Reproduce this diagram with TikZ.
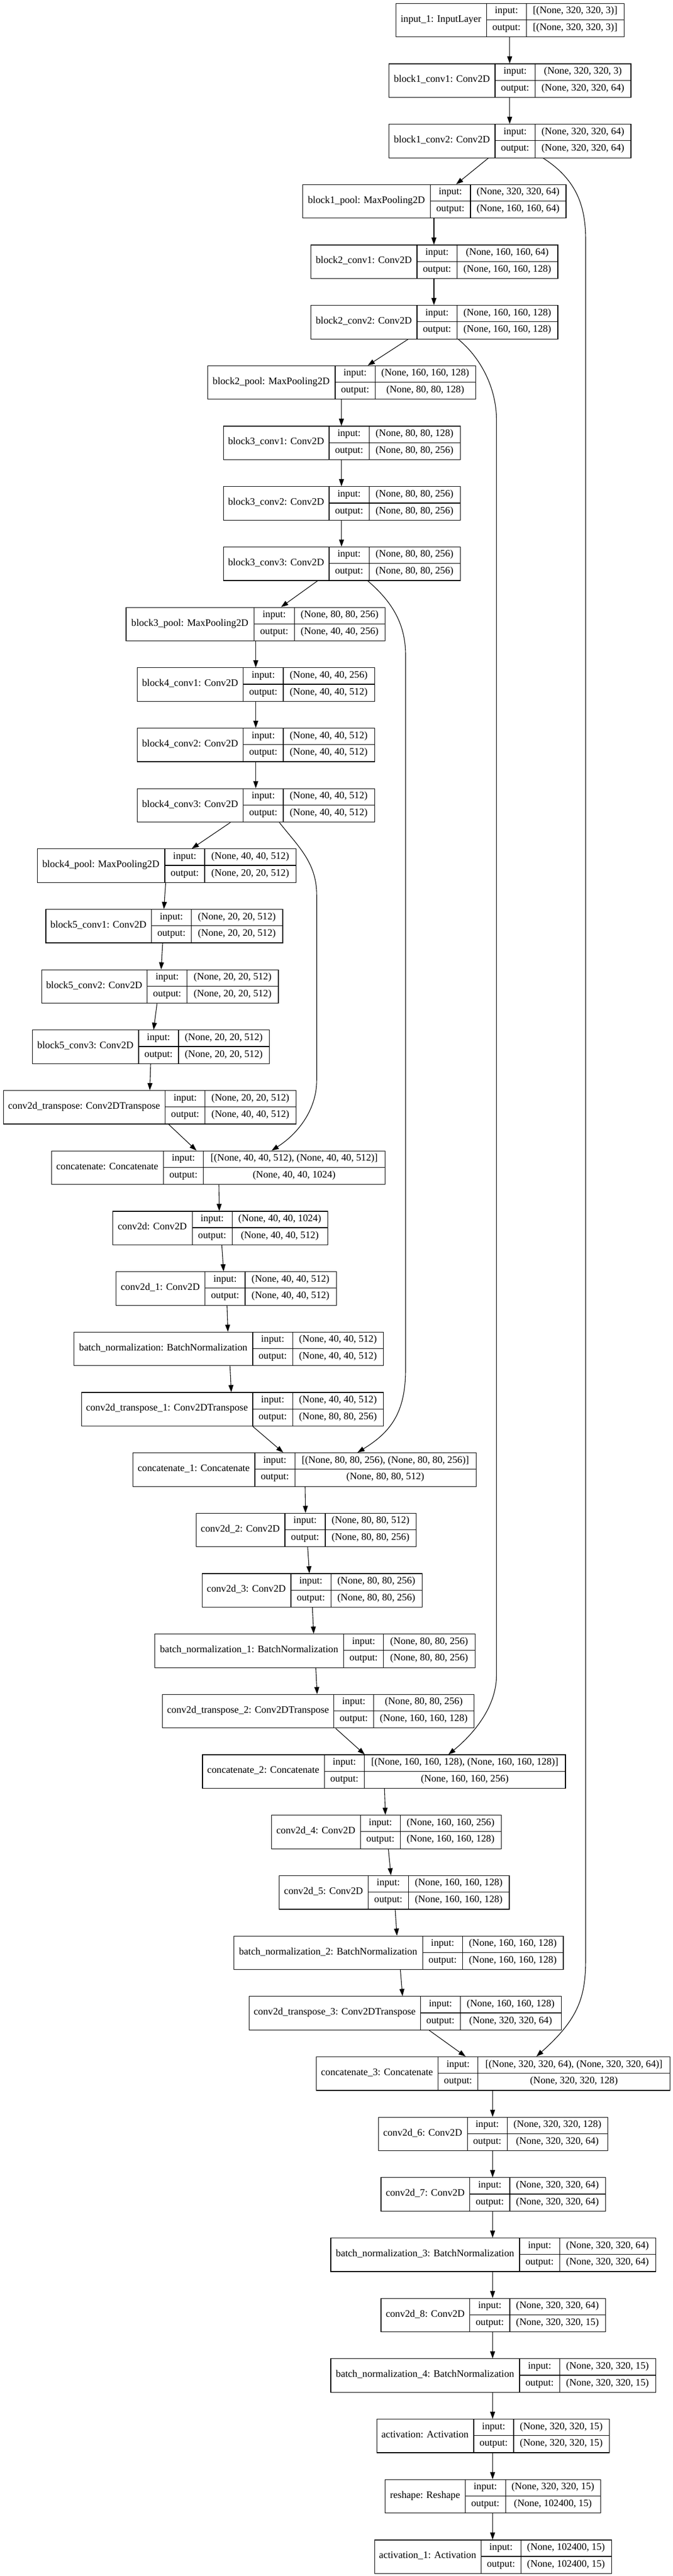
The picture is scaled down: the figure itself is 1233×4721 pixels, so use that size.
\documentclass[tikz,border=0pt]{standalone}
\usepackage{fontspec}
\setmainfont{Liberation Serif}
\usetikzlibrary{arrows.meta}
\tikzset{
  boxnode/.style={draw, line width=1.2pt, inner sep=0pt, anchor=north west},
  cellline/.style={line width=1.2pt},
  txt/.style={inner sep=0pt, font=\fontsize{18.2pt}{22pt}\selectfont, text height=12pt, text depth=4.5pt},
  edge/.style={line width=1.1pt, -{Triangle[length=13pt,width=9pt]}},
}
\newcommand\kbox[9]{%
  \pgfmathsetmacro\kqt{5.7+110.68*#2}%
  \pgfmathsetmacro\kqb{\kqt+61.5}%
  \pgfmathsetmacro\kqm{\kqt+30.75}%
  \pgfmathsetmacro\kqw{#6-#3}%
  \pgfmathsetmacro\kqxa{(#3+#4)/2}%
  \pgfmathsetmacro\kqxb{(#4+#5)/2}%
  \pgfmathsetmacro\kqxc{(#5+#6)/2}%
  \pgfmathsetmacro\kqya{\kqt+15.4}%
  \pgfmathsetmacro\kqyb{\kqt+46.1}%
  \node[boxnode, minimum width=\kqw pt, minimum height=61.5pt] (#1) at (#3,\kqt) {};
  \draw[cellline] (#4,\kqt) -- (#4,\kqb) (#5,\kqt) -- (#5,\kqb) (#4,\kqm) -- (#6,\kqm);
  \node[txt] (#1-lab) at (\kqxa,\kqm) {#7};
  \node[txt] (#1-inl) at (\kqxb,\kqya) {input:};
  \node[txt] (#1-outl) at (\kqxb,\kqyb) {output:};
  \node[txt] (#1-ins) at (\kqxc,\kqya) {#8};
  \node[txt] (#1-outs) at (\kqxc,\kqyb) {#9};
}
\begin{document}
\begin{tikzpicture}[x=1pt,y=-1pt]
\fill[white] (0,0) rectangle (1233,4721);
\useasboundingbox (0,0) rectangle (1233,4721);

\kbox{in1}{0}{724.5}{891.3}{964.4}{1143.1}{input\_1: InputLayer}{[(None, 320, 320, 3)]}{[(None, 320, 320, 3)]}
\kbox{b1c1}{1}{712.2}{907}{980.5}{1155.4}{block1\_conv1: Conv2D}{(None, 320, 320, 3)}{(None, 320, 320, 64)}
\kbox{b1c2}{2}{712.2}{907}{980.5}{1155.4}{block1\_conv2: Conv2D}{(None, 320, 320, 64)}{(None, 320, 320, 64)}
\kbox{b1p}{3}{554.2}{788.4}{861.9}{1036.4}{block1\_pool: MaxPooling2D}{(None, 320, 320, 64)}{(None, 160, 160, 64)}
\kbox{b2c1}{4}{569.2}{763.9}{837.4}{1021.4}{block2\_conv1: Conv2D}{(None, 160, 160, 64)}{(None, 160, 160, 128)}
\kbox{b2c2}{5}{569.2}{763.9}{837.4}{1021.4}{block2\_conv2: Conv2D}{(None, 160, 160, 128)}{(None, 160, 160, 128)}
\kbox{b2p}{6}{379.7}{614}{687.1}{871}{block2\_pool: MaxPooling2D}{(None, 160, 160, 128)}{(None, 80, 80, 128)}
\kbox{b3c1}{7}{408.5}{603}{676.1}{842.8}{block3\_conv1: Conv2D}{(None, 80, 80, 128)}{(None, 80, 80, 256)}
\kbox{b3c2}{8}{408.5}{603}{676.1}{842.8}{block3\_conv2: Conv2D}{(None, 80, 80, 256)}{(None, 80, 80, 256)}
\kbox{b3c3}{9}{408.5}{603}{676.1}{842.8}{block3\_conv3: Conv2D}{(None, 80, 80, 256)}{(None, 80, 80, 256)}
\kbox{b3p}{10}{230.3}{465.4}{539.3}{705.2}{block3\_pool: MaxPooling2D}{(None, 80, 80, 256)}{(None, 40, 40, 256)}
\kbox{b4c1}{11}{250.8}{445.8}{518.9}{685.5}{block4\_conv1: Conv2D}{(None, 40, 40, 256)}{(None, 40, 40, 512)}
\kbox{b4c2}{12}{250.8}{445.8}{518.9}{685.5}{block4\_conv2: Conv2D}{(None, 40, 40, 512)}{(None, 40, 40, 512)}
\kbox{b4c3}{13}{250.8}{445.8}{518.9}{685.5}{block4\_conv3: Conv2D}{(None, 40, 40, 512)}{(None, 40, 40, 512)}
\kbox{b4p}{14}{67.6}{301.9}{375}{541.7}{block4\_pool: MaxPooling2D}{(None, 40, 40, 512)}{(None, 20, 20, 512)}
\kbox{b5c1}{15}{83.3}{277.5}{350.6}{517.3}{block5\_conv1: Conv2D}{(None, 20, 20, 512)}{(None, 20, 20, 512)}
\kbox{b5c2}{16}{75.5}{269.7}{342.8}{509.4}{block5\_conv2: Conv2D}{(None, 20, 20, 512)}{(None, 20, 20, 512)}
\kbox{b5c3}{17}{59}{253.9}{327}{492.9}{block5\_conv3: Conv2D}{(None, 20, 20, 512)}{(None, 20, 20, 512)}
\kbox{t0}{18}{5.5}{302.7}{375.8}{541.7}{conv2d\_transpose: Conv2DTranspose}{(None, 20, 20, 512)}{(None, 40, 40, 512)}
\kbox{c0}{19}{93.6}{299.5}{372.6}{705.2}{concatenate: Concatenate}{[(None, 40, 40, 512), (None, 40, 40, 512)]}{(None, 40, 40, 1024)}
\kbox{d0}{20}{206}{352.2}{425.3}{599.8}{conv2d: Conv2D}{(None, 40, 40, 1024)}{(None, 40, 40, 512)}
\kbox{d1}{21}{211.5}{375.8}{448.9}{615.6}{conv2d\_1: Conv2D}{(None, 40, 40, 512)}{(None, 40, 40, 512)}
\kbox{n0}{22}{135.2}{463}{536.2}{702}{batch\_normalization: BatchNormalization}{(None, 40, 40, 512)}{(None, 40, 40, 512)}
\kbox{t1}{23}{148.6}{463}{536.2}{702}{conv2d\_transpose\_1: Conv2DTranspose}{(None, 40, 40, 512)}{(None, 80, 80, 256)}
\kbox{c1}{24}{242.9}{467}{540.1}{871.9}{concatenate\_1: Concatenate}{[(None, 80, 80, 256), (None, 80, 80, 256)]}{(None, 80, 80, 512)}
\kbox{d2}{25}{358.5}{522}{595.9}{761.8}{conv2d\_2: Conv2D}{(None, 80, 80, 512)}{(None, 80, 80, 256)}
\kbox{d3}{26}{369.5}{533}{606.1}{772.8}{conv2d\_3: Conv2D}{(None, 80, 80, 256)}{(None, 80, 80, 256)}
\kbox{n1}{27}{283}{629.7}{702.8}{869.5}{batch\_normalization\_1: BatchNormalization}{(None, 80, 80, 256)}{(None, 80, 80, 256)}
\kbox{t2}{28}{297.2}{611.6}{684.7}{867.9}{conv2d\_transpose\_2: Conv2DTranspose}{(None, 80, 80, 256)}{(None, 160, 160, 128)}
\kbox{c2}{29}{370.3}{594.3}{667.5}{1035.4}{concatenate\_2: Concatenate}{[(None, 160, 160, 128), (None, 160, 160, 128)]}{(None, 160, 160, 256)}
\kbox{d4}{30}{496.9}{660.4}{733.5}{917.5}{conv2d\_4: Conv2D}{(None, 160, 160, 256)}{(None, 160, 160, 128)}
\kbox{d5}{31}{511}{674.5}{748.4}{932.4}{conv2d\_5: Conv2D}{(None, 160, 160, 128)}{(None, 160, 160, 128)}
\kbox{n2}{32}{427.7}{774.4}{847.5}{1031.4}{batch\_normalization\_2: BatchNormalization}{(None, 160, 160, 128)}{(None, 160, 160, 128)}
\kbox{t3}{33}{456}{770.4}{843.6}{1027.5}{conv2d\_transpose\_3: Conv2DTranspose}{(None, 160, 160, 128)}{(None, 320, 320, 64)}
\kbox{c3}{34}{578.6}{802.7}{875.8}{1227.2}{concatenate\_3: Concatenate}{[(None, 320, 320, 64), (None, 320, 320, 64)]}{(None, 320, 320, 128)}
\kbox{d6}{35}{692.6}{856.1}{929.2}{1113.2}{conv2d\_6: Conv2D}{(None, 320, 320, 128)}{(None, 320, 320, 64)}
\kbox{d7}{36}{697.3}{860.8}{934}{1108.5}{conv2d\_7: Conv2D}{(None, 320, 320, 64)}{(None, 320, 320, 64)}
\kbox{n3}{37}{605.3}{952}{1025.2}{1200.5}{batch\_normalization\_3: BatchNormalization}{(None, 320, 320, 64)}{(None, 320, 320, 64)}
\kbox{d8}{38}{697.3}{860.8}{934}{1108.5}{conv2d\_8: Conv2D}{(None, 320, 320, 64)}{(None, 320, 320, 15)}
\kbox{n4}{39}{605.3}{952}{1025.2}{1200.5}{batch\_normalization\_4: BatchNormalization}{(None, 320, 320, 15)}{(None, 320, 320, 15)}
\kbox{ac0}{40}{689.5}{867.9}{941}{1115.6}{activation: Activation}{(None, 320, 320, 15)}{(None, 320, 320, 15)}
\kbox{rs}{41}{705.2}{852.2}{926.1}{1099.8}{reshape: Reshape}{(None, 320, 320, 15)}{(None, 102400, 15)}
\kbox{ac1}{42}{685.5}{881.3}{954.4}{1119.5}{activation\_1: Activation}{(None, 102400, 15)}{(None, 102400, 15)}

% main chain
\draw[edge] (in1.south -| 933.8,0) -- (b1c1.north -| 933.8,0);
\draw[edge] (b1c1.south -| 933.8,0) -- (b1c2.north -| 933.8,0);
\draw[edge] (b1c2.south -| 894.7,0) -- (b1p.north -| 835.7,0);
\draw[edge] (b1p.south -| 795,0) -- (b2c1.north -| 795,0);
\draw[edge] (b2c1.south -| 795,0) -- (b2c2.north -| 795,0);
\draw[edge] (b2c2.south -| 747.6,0) -- (b2p.north -| 673.7,0);
\draw[edge] (b2p.south -| 625.5,0) -- (b3c1.north -| 625.5,0);
\draw[edge] (b3c1.south -| 625.6,0) -- (b3c2.north -| 625.6,0);
\draw[edge] (b3c2.south -| 625.7,0) -- (b3c3.north -| 625.7,0);
\draw[edge] (b3c3.south -| 581.8,0) -- (b3p.north -| 515,0);
\draw[edge] (b3p.south -| 468.6,0) -- (b4c1.north -| 468.6,0);
\draw[edge] (b4c1.south -| 468.6,0) -- (b4c2.north -| 468.6,0);
\draw[edge] (b4c2.south -| 468.6,0) -- (b4c3.north -| 468.6,0);
\draw[edge] (b4c3.south -| 422.2,0) -- (b4p.north -| 351.4,0);
\draw[edge] (b4p.south -| 303.5,0) -- (b5c1.north -| 300.3,0);
\draw[edge] (b5c1.south -| 298,0) -- (b5c2.north -| 295.2,0);
\draw[edge] (b5c2.south -| 287.7,0) -- (b5c3.north -| 281.4,0);
\draw[edge] (b5c3.south -| 276,0) -- (t0.north -| 274.4,0);
\draw[edge] (t0.south -| 309,0) -- (c0.north -| 360,0);
\draw[edge] (c0.south -| 401,0) -- (d0.north -| 401.7,0);
\draw[edge] (d0.south -| 406.4,0) -- (d1.north -| 409.6,0);
\draw[edge] (d1.south -| 415.9,0) -- (n0.north -| 417.5,0);
\draw[edge] (n0.south -| 421.4,0) -- (t1.north -| 423.7,0);
\draw[edge] (t1.south -| 463,0) -- (c1.north -| 518.9,0);
\draw[edge] (c1.south -| 559,0) -- (d2.north -| 559.7,0);
\draw[edge] (d2.south -| 563.7,0) -- (d3.north -| 566.8,0);
\draw[edge] (d3.south -| 572.3,0) -- (n1.north -| 574.7,0);
\draw[edge] (n1.south -| 578.6,0) -- (t2.north -| 581,0);
\draw[edge] (t2.south -| 614.8,0) -- (c2.north -| 668.2,0);
\draw[edge] (c2.south -| 704.4,0) -- (d4.north -| 706,0);
\draw[edge] (d4.south -| 711.5,0) -- (d5.north -| 716.2,0);
\draw[edge] (d5.south -| 724,0) -- (n2.north -| 727.2,0);
\draw[edge] (n2.south -| 733.5,0) -- (t3.north -| 737.4,0);
\draw[edge] (t3.south -| 786.2,0) -- (c3.north -| 853,0);
\draw[edge] (c3.south -| 902.5,0) -- (d6.north -| 902.5,0);
\draw[edge] (d6.south -| 902.5,0) -- (d7.north -| 902.5,0);
\draw[edge] (d7.south -| 902.5,0) -- (n3.north -| 902.5,0);
\draw[edge] (n3.south -| 902.5,0) -- (d8.north -| 902.5,0);
\draw[edge] (d8.south -| 902.5,0) -- (n4.north -| 902.5,0);
\draw[edge] (n4.south -| 902.5,0) -- (ac0.north -| 902.5,0);
\draw[edge] (ac0.south -| 902.5,0) -- (rs.north -| 902.5,0);
\draw[edge] (rs.south -| 902.5,0) -- (ac1.north -| 902.5,0);

% skip connections
\draw[edge] (b1c2.south -| 995,0) .. controls (1058,330) and (1073,380) .. (1073,440)
  -- (1073,3590) .. controls (1073,3660) and (1060,3700) .. (c3.north -| 982.7,0);
\draw[edge] (b2c2.south -| 839.6,0) .. controls (880,655) and (909.6,710) .. (909.6,770)
  -- (909.6,3070) .. controls (909.6,3130) and (865,3180) .. (c2.north -| 821.5,0);
\draw[edge] (b3c3.south -| 673.7,0) .. controls (715,1100) and (743,1140) .. (743,1200)
  -- (743,2510) .. controls (743,2590) and (715,2625) .. (c1.north -| 654.9,0);
\draw[edge] (b4c3.south -| 511.8,0) .. controls (545,1550) and (580.2,1580) .. (580.2,1640)
  -- (580.2,1980) .. controls (580.2,2030) and (550,2075) .. (c0.north -| 497.6,0);
\end{tikzpicture}
\end{document}
